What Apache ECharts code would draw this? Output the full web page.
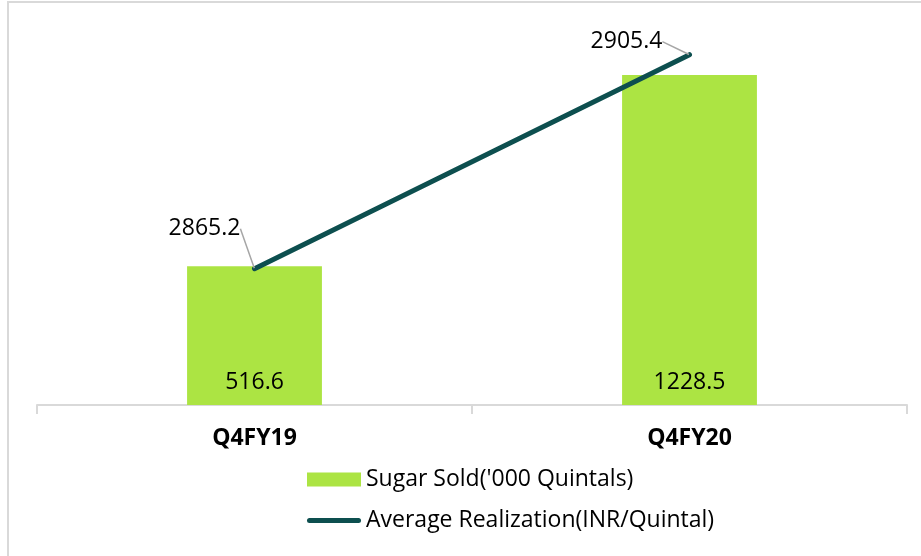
<!DOCTYPE html>
<html>
<head>
<meta charset="utf-8">
<script src="https://cdn.jsdelivr.net/npm/echarts@6/dist/echarts.min.js"></script>
<style>
  html, body { margin: 0; padding: 0; background: #fff; }
  #wrap { position: relative; width: 921px; height: 556px; }
  #frame { position: absolute; left: 7px; top: 1px; right: 0; bottom: 0; border-left: 2px solid #d9d9d9; border-top: 2px solid #d9d9d9; pointer-events: none; }
  #chart { width: 921px; height: 556px; }
</style>
</head>
<body>
<div id="wrap">
  <div id="chart"></div>
  <div id="frame"></div>
</div>
<script>
// 数据
const categories = ['Q4FY19', 'Q4FY20']
const sugarSold = [516.6, 1228.5]
const avgRealization = [2865.2, 2905.4]
const seriesNames = ["Sugar Sold('000 Quintals)", 'Average Realization(INR/Quintal)']

const FONT = '"Open Sans", "Noto Sans", sans-serif'

const chart = echarts.init(document.getElementById('chart'))

// 线标签偏移
const lineLabelOffsets = [
  { dx: -50, dy: -40 },
  { dx: -63, dy: -13 }
]

const option = {
  animation: false,
  textStyle: { fontFamily: FONT },
  grid: { left: 37, right: 14, top: 27, bottom: 151 },
  legend: {
    orient: 'vertical',
    left: 302,
    top: 463,
    itemWidth: 54,
    itemHeight: 14,
    itemGap: 18,
    textStyle: { fontSize: 23, color: '#000', fontFamily: FONT },
    data: [
      { name: seriesNames[0], icon: 'rect' },
      {
        name: seriesNames[1],
        icon: 'path://M2.5,0 L51.5,0 A2.5,2.5 0 0 1 51.5,5 L2.5,5 A2.5,2.5 0 0 1 2.5,0 Z'
      }
    ]
  },
  xAxis: {
    type: 'category',
    data: categories,
    axisLine: { lineStyle: { color: '#d9d9d9', width: 2 } },
    axisTick: { show: true, length: 9, lineStyle: { color: '#d9d9d9', width: 2 } },
    axisLabel: { margin: 22, fontSize: 23, fontWeight: 'bold', color: '#000', fontFamily: FONT }
  },
  yAxis: [
    { type: 'value', min: 0, max: 1407, show: false, splitLine: { show: false } },
    { type: 'value', min: 2839.6, max: 2910.6, show: false, splitLine: { show: false } }
  ],
  series: [
    {
      name: seriesNames[0],
      type: 'bar',
      data: sugarSold,
      barWidth: '31%',
      itemStyle: { color: '#ace443' },
      label: {
        show: true,
        position: 'insideBottom',
        distance: 11,
        fontSize: 23,
        color: '#000',
        fontFamily: FONT
      }
    },
    {
      name: seriesNames[1],
      type: 'line',
      yAxisIndex: 1,
      data: avgRealization,
      symbol: 'circle',
      symbolSize: 1,
      lineStyle: { color: '#0d4f4f', width: 5, cap: 'round' },
      itemStyle: { color: '#0d4f4f' },
      label: {
        show: true,
        position: 'inside',
        fontSize: 23,
        color: '#000',
        fontFamily: FONT
      },
      labelLine: { show: true, lineStyle: { color: '#a6a6a6', width: 1.5 } },
      labelLayout: (params) => lineLabelOffsets[params.dataIndex]
    }
  ]
}

chart.setOption(option)
</script>
</body>
</html>
